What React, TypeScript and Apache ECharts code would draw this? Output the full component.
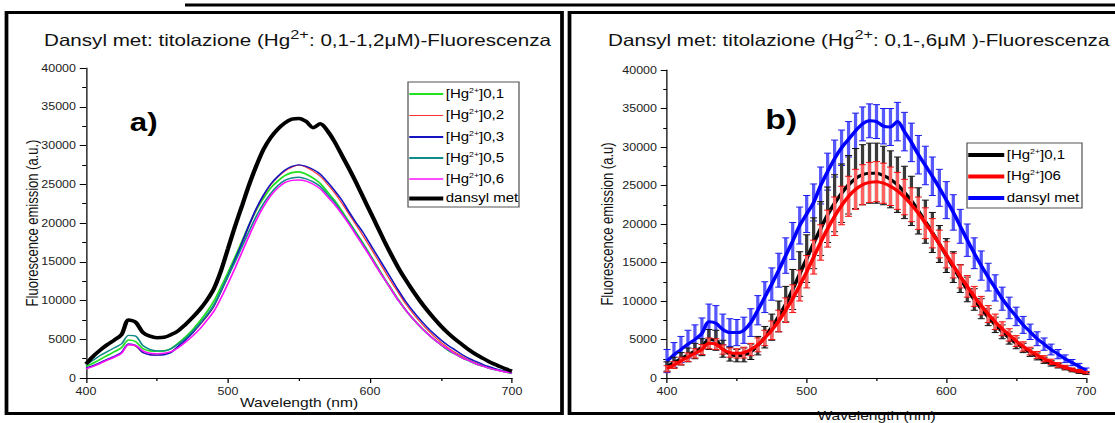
import React, { useEffect, useRef } from "react";
import * as echarts from "echarts";

// ---------- data ----------
const wavelengths = [
  400, 405, 410, 415, 420, 425, 430, 435, 440, 445, 450, 455, 460, 465, 470, 475, 480, 485, 490, 495,
  500, 505, 510, 515, 520, 525, 530, 535, 540, 545, 550, 555, 560, 565, 570, 575, 580, 585, 590, 595,
  600, 605, 610, 615, 620, 625, 630, 635, 640, 645, 650, 655, 660, 665, 670, 675, 680, 685, 690, 695, 700,
];

// panel a
const aHg01 = [
  1500, 1900, 2400, 2900, 3400, 3900, 4900, 4700, 3800, 3500, 3450, 3500, 3800, 4500, 5300, 6200, 7300, 8500, 9900, 11700,
  13600, 15600, 17700, 19800, 21700, 23200, 24500, 25400, 26100, 26500, 26600, 26300, 25800, 25100, 24000, 22900, 21600, 20200, 18800, 17400,
  15900, 14400, 12900, 11500, 10100, 8800, 7700, 6700, 5800, 5000, 4300, 3600, 3100, 2600, 2200, 1800, 1500, 1200, 1000, 800, 600,
];
const aHg02 = [
  1200, 1500, 1900, 2300, 2700, 3200, 4300, 4100, 3300, 3000, 2950, 3050, 3400, 4100, 4900, 5800, 6800, 7900, 9200, 11100,
  13100, 15200, 17400, 19700, 21800, 23500, 24900, 25900, 26700, 27200, 27500, 27200, 26700, 26000, 25000, 23900, 22600, 21200, 19800, 18400,
  16900, 15400, 13900, 12400, 11000, 9600, 8400, 7300, 6300, 5400, 4600, 3900, 3300, 2800, 2300, 1900, 1600, 1300, 1000, 800, 700,
];
const aHg03 = [
  1300, 1600, 2000, 2400, 2800, 3300, 4400, 4200, 3300, 3000, 2950, 3000, 3300, 4100, 4900, 5800, 6900, 8000, 9300, 11200,
  13200, 15300, 17500, 19800, 21900, 23600, 25000, 26000, 26800, 27300, 27500, 27300, 26900, 26300, 25300, 24200, 23000, 21500, 20100, 18800,
  17300, 15800, 14300, 12800, 11300, 9900, 8700, 7600, 6600, 5700, 4900, 4200, 3600, 3000, 2500, 2100, 1700, 1400, 1100, 900, 700,
];
const aHg05 = [
  1700, 2300, 2900, 3400, 3900, 4400, 5500, 5400, 4200, 3700, 3500, 3500, 3800, 4400, 5100, 6000, 7000, 8100, 9400, 11200,
  13100, 15000, 17000, 19000, 20900, 22500, 23800, 24800, 25500, 25800, 25900, 25700, 25300, 24700, 23700, 22700, 21400, 20100, 18700, 17300,
  15800, 14300, 12800, 11400, 10000, 8800, 7700, 6700, 5800, 5000, 4300, 3600, 3100, 2600, 2200, 1800, 1500, 1200, 1000, 800, 600,
];
const aHg06 = [
  1200, 1500, 1900, 2300, 2700, 3200, 4300, 4200, 3500, 3200, 3150, 3200, 3400, 3900, 4600, 5400, 6300, 7400, 8600, 10300,
  12200, 14200, 16300, 18400, 20400, 22100, 23500, 24500, 25200, 25500, 25550, 25400, 25000, 24400, 23400, 22400, 21200, 19900, 18500, 17100,
  15700, 14200, 12800, 11400, 10000, 8800, 7700, 6700, 5800, 5000, 4300, 3700, 3100, 2600, 2200, 1800, 1500, 1200, 1000, 800, 650,
];
const aDansyl = [
  1800, 2800, 3600, 4300, 4900, 5600, 7500, 7200, 5900, 5400, 5200, 5250, 5600, 6100, 6900, 7800, 8800, 10000, 11500, 13800,
  16700, 19600, 22300, 25000, 27400, 29500, 31000, 32100, 32900, 33400, 33500, 33100, 32300, 32800, 31900, 30500, 28800, 27100, 25300, 23400,
  21500, 19600, 17700, 15900, 14200, 12700, 11300, 10000, 8800, 7700, 6700, 5800, 5000, 4300, 3600, 3000, 2500, 2000, 1600, 1200, 900,
];

// panel b (means and standard deviations)
const bHg01 = [
  1500, 2000, 2500, 3000, 3500, 4000, 5000, 4900, 3800, 3100, 2900, 3000, 3400, 4200, 5300, 6600, 8000, 9600, 11500, 13500,
  15500, 17500, 19400, 21200, 22700, 24000, 25100, 25900, 26400, 26600, 26600, 26300, 25800, 25100, 24100, 23000, 21700, 20300, 18900, 17400,
  15900, 14400, 12900, 11500, 10200, 9000, 7900, 6900, 6000, 5200, 4500, 3900, 3300, 2800, 2300, 1900, 1600, 1300, 1000, 800, 600,
];
const bHg06 = [
  1200, 1700, 2200, 2700, 3200, 3700, 4500, 4400, 3700, 3300, 3200, 3300, 3700, 4300, 5200, 6200, 7400, 8800, 10300, 12000,
  13800, 15700, 17600, 19400, 21000, 22400, 23600, 24500, 25100, 25400, 25500, 25300, 24900, 24300, 23500, 22500, 21400, 20100, 18800, 17400,
  16000, 14600, 13200, 11900, 10600, 9400, 8300, 7300, 6400, 5600, 4800, 4100, 3500, 3000, 2500, 2100, 1700, 1400, 1100, 900, 700,
];
const bDansyl = [
  2200, 3000, 3700, 4400, 5000, 5800, 7300, 7100, 6300, 5900, 5900, 6200, 7200, 8800, 10500, 12200, 14000, 15900, 17800, 19800,
  21300, 22800, 25000, 26800, 28500, 29900, 31000, 32100, 33000, 33400, 33300, 32700, 32600, 33300, 32000, 30600, 29000, 27600, 26200, 24700,
  23100, 21500, 19700, 17900, 16200, 14600, 13100, 11700, 10300, 9100, 8000, 6900, 6000, 5100, 4400, 3700, 3100, 2500, 2000, 1500, 1000,
];
const bHg01Err = [
  600, 700, 800, 900, 1000, 1100, 1300, 1300, 1100, 900, 800, 900, 1000, 1200, 1400, 1700, 2000, 2300, 2600, 2900,
  3100, 3300, 3500, 3600, 3700, 3800, 3800, 3900, 3900, 3900, 3900, 3800, 3700, 3600, 3400, 3200, 3000, 2800, 2600, 2400,
  2200, 2000, 1800, 1600, 1400, 1300, 1100, 1000, 900, 800, 700, 600, 500, 450, 400, 350, 300, 250, 200, 200, 150,
];
const bHg06Err = [
  400, 450, 500, 550, 600, 650, 700, 700, 600, 600, 600, 700, 800, 900, 1000, 1200, 1400, 1600, 1800, 2000,
  2100, 2200, 2300, 2400, 2500, 2500, 2600, 2600, 2600, 2600, 2600, 2600, 2500, 2400, 2300, 2200, 2100, 2000, 1900, 1800,
  1700, 1600, 1500, 1400, 1300, 1200, 1100, 1000, 900, 800, 700, 600, 500, 450, 400, 350, 300, 250, 200, 200, 150,
];
const bDansylErr = [
  1500, 1600, 1700, 1800, 1900, 2000, 2300, 2300, 2000, 1800, 1700, 1700, 1800, 1900, 2000, 2100, 2200, 2300, 2400, 2400,
  2400, 2400, 2400, 2400, 2400, 2300, 2300, 2300, 2200, 2200, 2200, 2300, 2400, 2500, 2500, 2500, 2500, 2500, 2500, 2400,
  2400, 2300, 2200, 2100, 2000, 1900, 1800, 1700, 1500, 1400, 1200, 1100, 1000, 900, 800, 700, 600, 500, 400, 400, 300,
];

const xTicks = { min: 400, max: 700, interval: 100 };
const yTicks = { min: 0, max: 40000, interval: 5000 };

const legendA = [
  { pre: "[Hg", sup: "2+", post: "]0,1", color: "#22e022", width: 2 },
  { pre: "[Hg", sup: "2+", post: "]0,2", color: "#ff3030", width: 1 },
  { pre: "[Hg", sup: "2+", post: "]0,3", color: "#1414c0", width: 2 },
  { pre: "[Hg", sup: "2+", post: "]0,5", color: "#118a8a", width: 2 },
  { pre: "[Hg", sup: "2+", post: "]0,6", color: "#ff10ff", width: 1.5 },
  { pre: "dansyl met", sup: "", post: "", color: "#000000", width: 4 },
];
const legendB = [
  { pre: "[Hg", sup: "2+", post: "]0,1", color: "#000000", width: 4 },
  { pre: "[Hg", sup: "2+", post: "]06", color: "#ff0000", width: 4 },
  { pre: "dansyl met", sup: "", post: "", color: "#0000ff", width: 4 },
];

// ---------- layout (the picture is horizontally stretched) ----------
const SX = 1.25;
const W = 1115 / SX;
const H = 423;
const FONT = "Liberation Sans, Arial, sans-serif";

const pts = (vals: number[]) => wavelengths.map((w, i) => [w, vals[i]]);
const errPts = (vals: number[], err: number[]) =>
  wavelengths.map((w, i) => [w, vals[i] - err[i], vals[i] + err[i]]);

function makeAxes(gridIndex: number, yName: string, xNameGap: number, yNameGap: number) {
  const common = {
    gridIndex,
    type: "value" as const,
    axisLine: { lineStyle: { color: "#000", width: 1 } },
    axisTick: { show: true, length: 5, lineStyle: { color: "#000", width: 1 } },
    minorTick: { show: true, splitNumber: 2, length: 3, lineStyle: { color: "#000", width: 1 } },
    splitLine: { show: false },
    axisLabel: { fontSize: 10, color: "#222", fontFamily: FONT, margin: 8, formatter: (v: number) => String(v) },
    nameLocation: "middle" as const,
    nameMoveOverlap: false,
    nameTextStyle: { fontSize: 12.5, color: "#111", fontFamily: FONT },
  };
  return {
    x: { ...common, ...xTicks, name: "Wavelength (nm)", nameGap: xNameGap },
    y: {
      ...common,
      ...yTicks,
      name: yName,
      nameGap: yNameGap,
      nameTextStyle: { fontSize: 13, color: "#111", fontFamily: FONT },
    },
  };
}

function errRender(barColor: string, capColor: string) {
  return (params: any, api: any) => {
    const x = api.value(0);
    const lo = api.coord([x, api.value(1)]);
    const hi = api.coord([x, api.value(2)]);
    const hw = 2.8;
    return {
      type: "group",
      children: [
        { type: "line", shape: { x1: lo[0], y1: lo[1], x2: hi[0], y2: hi[1] }, style: { stroke: barColor, lineWidth: 2.6 } },
        { type: "line", shape: { x1: hi[0] - hw, y1: hi[1], x2: hi[0] + hw, y2: hi[1] }, style: { stroke: capColor, lineWidth: 1 } },
        { type: "line", shape: { x1: lo[0] - hw, y1: lo[1], x2: lo[0] + hw, y2: lo[1] }, style: { stroke: capColor, lineWidth: 1 } },
      ],
    };
  };
}

function legendGraphic(items: typeof legendA, bx: number, by: number, bw: number, bh: number, rowsY: number[], lineLen: number) {
  const els: any[] = [
    { type: "rect", shape: { x: bx, y: by, width: bw, height: bh }, style: { fill: "#fff", stroke: "#555", lineWidth: 1 }, z: 50 },
  ];
  items.forEach((it, i) => {
    const y = rowsY[i];
    els.push({
      type: "line",
      shape: { x1: bx + 1, y1: y, x2: bx + 1 + lineLen, y2: y },
      style: { stroke: it.color, lineWidth: it.width },
      z: 51,
    });
    els.push({
      type: "text",
      x: bx + lineLen + 3,
      y: y,
      z: 51,
      style: {
        text: it.sup ? `${it.pre}{s|${it.sup}}${it.post}` : it.pre,
        fontSize: 12,
        fontFamily: FONT,
        fill: "#000",
        align: "left",
        verticalAlign: "middle",
        textAlign: "left",
        textVerticalAlign: "middle",
        rich: { s: { fontSize: 7, verticalAlign: "top", lineHeight: 14, fontFamily: FONT, fill: "#000" } },
      },
    });
  });
  return els;
}

function titleText(cx: number, text: string) {
  return {
    type: "text",
    x: cx,
    y: 40,
    z: 60,
    style: {
      text,
      fontSize: 16.5,
      fontFamily: FONT,
      fill: "#111",
      align: "center",
      verticalAlign: "middle",
      textAlign: "center",
      textVerticalAlign: "middle",
      rich: { s: { fontSize: 13, verticalAlign: "top", lineHeight: 24, fontFamily: FONT, fill: "#111" } },
    },
  };
}

export default function App() {
  const ref = useRef<HTMLDivElement>(null);
  useEffect(() => {
    if (!ref.current) return;
    document.body.style.margin = "0";
    document.body.style.background = "#fff";
    const chart = echarts.init(ref.current, undefined, { renderer: "svg" });
    const axA = makeAxes(0, "Fluorescence emission (a.u.)", 18, 36);
    const axB = makeAxes(1, "Fluorescence emission (a.u)", 31, 41);

    const lineA = (name: string, data: number[], color: string, width: number) => ({
      name,
      type: "line",
      xAxisIndex: 0,
      yAxisIndex: 0,
      showSymbol: false,
      symbol: "none",
      smooth: 0.3,
      data: pts(data),
      lineStyle: { color, width },
      itemStyle: { color },
      z: 3,
    });
    const lineB = (name: string, data: number[], color: string, width: number, z: number) => ({
      name,
      type: "line",
      xAxisIndex: 1,
      yAxisIndex: 1,
      showSymbol: false,
      symbol: "none",
      smooth: 0.3,
      data: pts(data),
      lineStyle: { color, width },
      itemStyle: { color },
      z,
    });
    const errB = (data: any[], bar: string, cap: string, z: number) => ({
      type: "custom",
      xAxisIndex: 1,
      yAxisIndex: 1,
      renderItem: errRender(bar, cap),
      encode: { x: 0, y: [1, 2] },
      data,
      z,
    });

    chart.setOption({
      animation: false,
      backgroundColor: "#fff",
      grid: [
        { left: 68.8, top: 68, width: 340.8, height: 310, outerBoundsMode: "none", containLabel: false },
        { left: 533.6, top: 70, width: 335.2, height: 308, outerBoundsMode: "none", containLabel: false },
      ],
      xAxis: [axA.x, axB.x],
      yAxis: [axA.y, axB.y],
      series: [
        lineA("[Hg2+]0,1", aHg01, "#22e022", 1.6),
        lineA("[Hg2+]0,2", aHg02, "#ff3030", 1),
        lineA("[Hg2+]0,3", aHg03, "#1414c0", 1.4),
        lineA("[Hg2+]0,5", aHg05, "#118a8a", 1.4),
        lineA("[Hg2+]0,6", aHg06, "#ff10ff", 1.4),
        lineA("dansyl met", aDansyl, "#000000", 3.5),
        errB(errPts(bDansyl, bDansylErr), "#5858ff", "#1a1aee", 2),
        lineB("dansyl met", bDansyl, "#0000ff", 3, 3),
        errB(errPts(bHg01, bHg01Err), "#3a3a3a", "#111111", 4),
        lineB("[Hg2+]0,1", bHg01, "#000000", 3, 5),
        errB(errPts(bHg06, bHg06Err), "#ff6060", "#ee1111", 6),
        lineB("[Hg2+]06", bHg06, "#ff0000", 3, 7),
      ],
      graphic: [
        { type: "line", shape: { x1: 148, y1: 5, x2: W + 5, y2: 5 }, style: { stroke: "#000", lineWidth: 3 }, z: 100 },
        { type: "rect", shape: { x: 5.2, y: 12.5, width: 444.4, height: 401 }, style: { fill: "none", stroke: "#000", lineWidth: 3 }, z: 100 },
        { type: "rect", shape: { x: 455.6, y: 12.5, width: 460, height: 401 }, style: { fill: "none", stroke: "#000", lineWidth: 3 }, z: 100 },
        titleText(238, "Dansyl met: titolazione (Hg{s|2+}: 0,1-1,2μM)-Fluorescenza"),
        titleText(687, "Dansyl met: titolazione (Hg{s|2+}: 0,1-,6μM )-Fluorescenza"),
        {
          type: "text", x: 115, y: 122, z: 60,
          style: { text: "a)", fontSize: 25, fontWeight: "bold", fontFamily: FONT, fill: "#000", align: "center", verticalAlign: "middle", textAlign: "center", textVerticalAlign: "middle" },
        },
        {
          type: "text", x: 625, y: 119, z: 60,
          style: { text: "b)", fontSize: 27, fontWeight: "bold", fontFamily: FONT, fill: "#000", align: "center", verticalAlign: "middle", textAlign: "center", textVerticalAlign: "middle" },
        },
        ...legendGraphic(legendA, 326.4, 82, 88.8, 125, [94, 115.5, 137, 158, 179, 198.5], 27.2),
        ...legendGraphic(legendB, 773.6, 143, 92, 65, [155, 176.5, 198], 28.8),
      ],
    });
    return () => chart.dispose();
  }, []);
  return (
    <div
      ref={ref}
      style={{
        position: "fixed",
        left: 0,
        top: 0,
        width: W,
        height: H,
        transform: `scaleX(${SX})`,
        transformOrigin: "0 0",
        background: "#fff",
      }}
    />
  );
}
